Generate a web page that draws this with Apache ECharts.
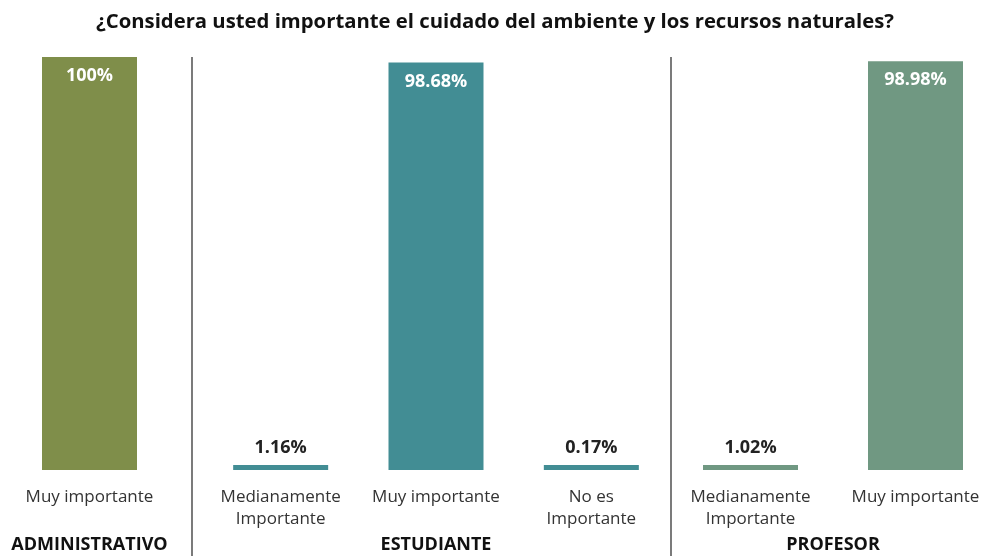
<!DOCTYPE html>
<html>
<head>
<meta charset="utf-8">
<script src="https://cdn.jsdelivr.net/npm/echarts@6/dist/echarts.min.js"></script>
<style>
  html, body { margin: 0; padding: 0; background: #fff; }
  #chart { width: 990px; height: 558px; }
</style>
</head>
<body>
<div id="chart"></div>
<script>
// grupos
var groups = ['ADMINISTRATIVO', 'ESTUDIANTE', 'PROFESOR'];
// categorias por grupo
var catAdmin = ['Muy importante'];
var catEst = ['Medianamente\nImportante', 'Muy importante', 'No es\nImportante'];
var catProf = ['Medianamente\nImportante', 'Muy importante'];
// valores (%)
var valAdmin = [100];
var valEst = [1.16, 98.68, 0.17];
var valProf = [1.02, 98.98];

var colors = ['#7F8E4A', '#428D94', '#709882'];
var fontFam = '"Open Sans", "Noto Sans", sans-serif';

// posiciones de cada grid (px)
var gridPos = [
  { left: 7, width: 165 },
  { left: 203, width: 466 },
  { left: 668, width: 330 }
];
var cats = [catAdmin, catEst, catProf];
var vals = [valAdmin, valEst, valProf];

var grid = [], xAxis = [], yAxis = [], series = [];
for (var i = 0; i < 3; i++) {
  grid.push({ left: gridPos[i].left, width: gridPos[i].width, top: 57, bottom: 88, outerBoundsMode: 'none', containLabel: false });
  xAxis.push({
    type: 'category', gridIndex: i, data: cats[i],
    axisLine: { show: false }, axisTick: { show: false },
    axisLabel: { interval: 0, margin: 16, fontSize: 17, lineHeight: 22, color: '#333', fontFamily: fontFam },
    name: groups[i], nameLocation: 'middle', nameGap: 66,
    nameTextStyle: { fontSize: 18, fontWeight: 'bold', color: '#111', fontFamily: fontFam }
  });
  yAxis.push({ type: 'value', gridIndex: i, min: 0, max: 100, show: false });
  series.push({
    type: 'bar', xAxisIndex: i, yAxisIndex: i,
    barWidth: 95, barMinHeight: 5,
    itemStyle: { color: colors[i] },
    data: vals[i].map(function (v) {
      var big = v > 50;
      return {
        value: v,
        label: {
          show: true,
          position: big ? 'insideTop' : 'top',
          distance: big ? 10 : 8,
          color: big ? '#fff' : '#222',
          fontSize: 18, fontWeight: 'bold', fontFamily: fontFam,
          formatter: function (p) { return p.value + '%'; }
        }
      };
    })
  });
}

var chart = echarts.init(document.getElementById('chart'));
chart.setOption({
  animation: false,
  title: {
    text: '¿Considera usted importante el cuidado del ambiente y los recursos naturales?',
    left: 'center', top: 7,
    textStyle: { fontSize: 20.3, fontWeight: 'bold', color: '#111', fontFamily: fontFam }
  },
  grid: grid, xAxis: xAxis, yAxis: yAxis, series: series,
  graphic: [
    { type: 'line', shape: { x1: 192, y1: 57, x2: 192, y2: 556 }, style: { stroke: '#222', lineWidth: 1.2 } },
    { type: 'line', shape: { x1: 671, y1: 57, x2: 671, y2: 556 }, style: { stroke: '#222', lineWidth: 1.2 } }
  ]
});
</script>
</body>
</html>
